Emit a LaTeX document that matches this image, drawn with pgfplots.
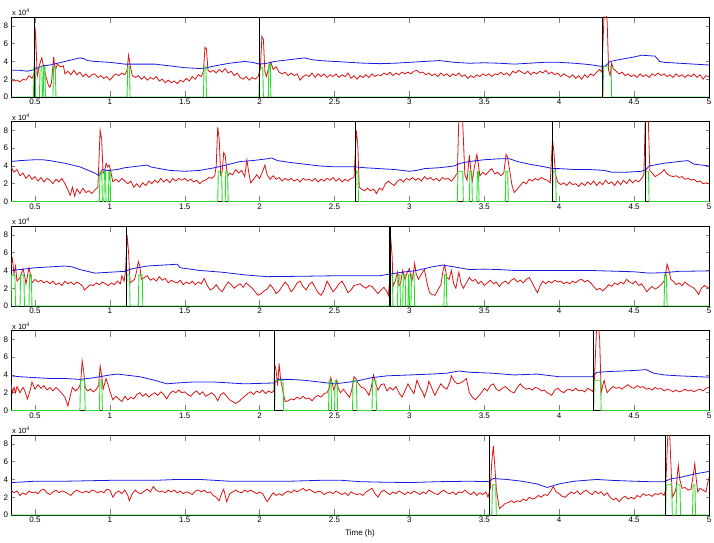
\documentclass[border=0pt]{standalone}
\usepackage{fontspec}
\setmainfont{Liberation Sans}
\usepackage{pgfplots}
\pgfplotsset{compat=1.18}

\definecolor{blu}{RGB}{25,25,225}
\definecolor{rd}{RGB}{220,20,20}
\definecolor{grn}{RGB}{40,220,40}

\pgfplotsset{
  pnl/.style={
    scale only axis, width=698pt, height=80pt, anchor=south west,
    xmin=0.34, xmax=5, ymin=0, ymax=9,
    xtick={0.5,1,1.5,2,2.5,3,3.5,4,4.5,5},
    ytick={0,2,4,6,8},
    tick align=inside,
    xtick style={/pgfplots/major tick length=6pt, line width=0.5pt},
    ytick style={/pgfplots/major tick length=3.5pt, line width=0.5pt},
    axis line style={line width=0.6pt},
    /pgf/number format/assume math mode=true,
    ticklabel style={font=\fontsize{8}{9}\selectfont},
    xticklabel style={yshift=1.5pt},
    yticklabel style={xshift=0.5pt},
    label style={font=\fontsize{8}{9}\selectfont},
  },
  red line/.style={rd, line width=0.8pt},
  blue line/.style={blu, line width=0.8pt},
  green line/.style={grn, line width=0.9pt},
  event/.style={black, ycomb, line width=1.1pt},
}
\tikzset{sclab/.style={anchor=south west, inner sep=1pt, font=\fontsize{7.5}{8}\selectfont}}

\begin{document}
\begin{tikzpicture}
\path[use as bounding box] (-11pt,-27pt) rectangle (703pt,515pt);

% panel 1
\begin{axis}[pnl, at={(0pt,418pt)}, name=p1]
\addplot[red line] coordinates {
(0.34,2.0)(0.36,1.8)(0.38,1.9)(0.40,1.7)(0.42,2.0)(0.44,1.9)(0.46,2.4)(0.48,2.1)(0.495,2.6)(0.50,7.9)(0.505,7.0)(0.515,2.3)
(0.53,3.6)(0.545,4.4)(0.56,3.3)(0.575,2.2)(0.59,1.3)(0.60,1.1)(0.61,1.6)(0.625,4.5)(0.635,3.0)(0.65,3.7)(0.67,3.4)(0.69,3.5)
(0.70,2.6)(0.72,2.9)(0.74,2.5)(0.76,3.0)(0.78,2.5)(0.80,2.8)(0.82,2.3)(0.84,2.6)(0.86,2.2)(0.88,2.5)(0.90,2.6)(0.92,2.2)
(0.94,2.4)(0.96,2.1)(0.98,2.3)(1.00,1.9)(1.02,2.3)(1.04,2.6)(1.06,2.4)(1.08,2.7)(1.10,2.5)(1.115,3.0)(1.125,4.7)(1.135,3.6)
(1.15,2.4)(1.17,2.2)(1.19,2.4)(1.21,2.0)(1.23,2.3)(1.25,1.9)(1.27,2.2)(1.29,2.0)(1.31,2.3)(1.33,1.8)(1.35,2.0)(1.37,1.6)
(1.39,1.9)(1.41,1.6)(1.43,1.8)(1.45,1.5)(1.47,1.9)(1.49,1.7)(1.51,2.1)(1.53,1.8)(1.55,2.3)(1.57,2.0)(1.59,2.5)(1.61,2.3)
(1.625,2.9)(1.635,5.6)(1.645,5.4)(1.655,3.0)(1.67,2.8)(1.69,3.0)(1.71,2.7)(1.73,3.1)(1.75,2.8)(1.77,3.2)(1.79,2.7)(1.81,2.9)
(1.83,2.4)(1.85,2.7)(1.87,2.2)(1.89,2.0)(1.91,2.3)(1.93,1.9)(1.95,2.2)(1.97,2.0)(1.99,2.3)(2.005,3.2)(2.015,6.8)(2.025,6.5)
(2.035,2.8)(2.045,2.3)(2.06,3.3)(2.075,3.9)(2.09,3.1)(2.11,3.4)(2.13,2.8)(2.15,2.6)(2.17,2.8)(2.19,2.4)(2.21,2.7)(2.23,2.4)
(2.25,2.6)(2.27,1.9)(2.29,2.3)(2.31,2.5)(2.33,2.3)(2.35,2.7)(2.37,2.2)(2.39,2.6)(2.41,2.3)(2.43,2.6)(2.45,2.2)(2.47,2.5)
(2.49,2.3)(2.51,2.6)(2.53,2.2)(2.55,2.5)(2.57,2.3)(2.59,2.7)(2.61,2.1)(2.63,2.4)(2.65,2.0)(2.67,2.4)(2.69,2.2)(2.71,2.5)
(2.73,2.2)(2.75,2.6)(2.77,2.3)(2.79,2.5)(2.81,2.4)(2.83,2.7)(2.85,2.5)(2.87,2.8)(2.89,2.4)(2.91,2.7)(2.93,2.5)(2.95,2.8)
(2.97,2.6)(2.99,2.8)(3.01,2.6)(3.03,2.9)(3.05,3.0)(3.07,2.7)(3.09,2.8)(3.11,2.5)(3.13,2.7)(3.15,2.4)(3.17,2.6)(3.19,2.3)
(3.21,2.7)(3.23,2.4)(3.25,2.6)(3.27,2.3)(3.29,2.6)(3.31,2.4)(3.33,2.7)(3.35,2.3)(3.37,2.5)(3.39,2.1)(3.41,2.4)(3.43,2.2)
(3.45,2.5)(3.47,2.3)(3.49,2.6)(3.51,2.4)(3.53,2.6)(3.55,2.3)(3.57,2.6)(3.59,2.5)(3.61,2.8)(3.63,2.5)(3.65,2.7)(3.67,2.4)
(3.69,2.9)(3.71,2.7)(3.73,3.0)(3.75,2.8)(3.77,2.6)(3.79,2.9)(3.81,2.5)(3.83,2.8)(3.85,2.6)(3.87,2.9)(3.89,2.7)(3.91,3.0)
(3.93,2.6)(3.95,2.8)(3.97,2.5)(3.99,2.7)(4.01,2.3)(4.03,2.6)(4.05,2.4)(4.07,2.2)(4.09,2.5)(4.11,2.1)(4.13,2.4)(4.15,2.0)
(4.17,2.5)(4.19,2.2)(4.21,2.6)(4.23,2.4)(4.25,2.8)(4.27,3.1)(4.285,2.8)(4.30,9.5)(4.31,10)(4.32,8.5)(4.33,3.0)(4.34,2.4)
(4.35,3.8)(4.36,3.2)(4.38,2.9)(4.40,2.6)(4.42,2.8)(4.44,2.4)(4.46,2.6)(4.48,2.3)(4.50,2.5)(4.52,2.2)(4.54,2.6)(4.56,2.3)
(4.58,2.5)(4.60,2.2)(4.62,2.6)(4.64,2.4)(4.66,2.7)(4.68,2.4)(4.70,2.6)(4.72,2.3)(4.74,2.5)(4.76,2.2)(4.78,2.6)(4.80,2.3)
(4.82,2.5)(4.84,2.2)(4.86,2.5)(4.88,2.3)(4.90,2.6)(4.92,2.2)(4.94,2.5)(4.96,2.0)(4.98,2.4)(5.00,2.3)
};
\addplot[blue line] coordinates {
(0.34,3.0)(0.40,3.0)(0.45,2.9)(0.50,3.1)(0.52,3.3)(0.55,3.5)(0.60,3.6)(0.65,3.8)(0.70,4.0)(0.75,4.2)(0.80,4.4)(0.83,4.3)
(0.85,4.1)(0.90,4.0)(1.00,3.9)(1.05,3.8)(1.10,3.7)(1.20,3.7)(1.30,3.7)(1.40,3.5)(1.50,3.3)(1.60,3.2)(1.65,3.3)(1.70,3.5)
(1.80,3.8)(1.90,4.0)(1.95,3.9)(2.00,3.7)(2.05,3.8)(2.10,4.0)(2.20,4.2)(2.30,4.4)(2.35,4.2)(2.40,4.1)(2.50,4.0)(2.60,3.9)
(2.70,3.8)(2.80,3.75)(2.90,3.8)(3.00,3.9)(3.10,4.0)(3.20,4.1)(3.30,3.9)(3.40,3.8)(3.50,3.85)(3.60,3.8)(3.70,3.7)(3.80,3.8)
(3.90,3.9)(4.00,3.9)(4.10,3.8)(4.20,3.65)(4.28,3.45)(4.31,3.5)(4.34,4.0)(4.40,4.2)(4.50,4.5)(4.55,4.7)(4.64,4.6)(4.67,4.0)
(4.70,3.9)(4.80,3.8)(4.90,3.7)(5.00,3.6)
};
\addplot[green line] coordinates {
(0.34,0)(0.49,0)(0.494,3.4)(0.501,3.4)(0.505,0)(0.53,0)(0.534,3.4)(0.546,3.4)(0.55,0)(0.555,0)(0.559,3.4)(0.566,3.4)(0.57,0)
(0.62,0)(0.624,3.4)(0.636,3.4)(0.64,0)(1.115,0)(1.119,3.4)(1.131,3.4)(1.135,0)(1.625,0)(1.629,3.4)(1.641,3.4)(1.645,0)
(1.995,0)(1.999,3.3)(2.021,3.3)(2.025,0)(2.058,0)(2.062,3.7)(2.071,3.7)(2.075,0)(4.292,0)(4.296,3.4)(4.346,3.4)(4.35,0)(5,0)
};
\addplot[event] coordinates {(0.495,9)(2.0,9)(4.29,9)};
\end{axis}
\node[sclab] at (p1.north west) {x 10\textsuperscript{4}};

% panel 2
\begin{axis}[pnl, at={(0pt,313.5pt)}, name=p2]
\addplot[red line] coordinates {
(0.34,3.9)(0.36,3.3)(0.38,3.6)(0.40,2.9)(0.42,3.2)(0.44,2.6)(0.46,3.0)(0.48,2.5)(0.50,2.8)(0.52,2.3)(0.54,2.7)(0.56,2.2)
(0.58,2.6)(0.60,2.4)(0.62,2.0)(0.64,2.5)(0.66,2.2)(0.68,2.6)(0.70,2.0)(0.72,1.3)(0.735,0.7)(0.75,1.6)(0.765,0.6)(0.78,1.4)
(0.80,0.9)(0.82,1.5)(0.84,1.0)(0.86,1.2)(0.88,0.9)(0.90,1.3)(0.92,1.6)(0.935,8.0)(0.945,7.0)(0.955,3.2)(0.965,3.4)(0.975,4.3)
(0.985,3.9)(0.995,4.1)(1.005,3.5)(1.02,2.2)(1.04,2.5)(1.06,2.2)(1.08,2.6)(1.10,2.3)(1.12,2.0)(1.14,2.3)(1.16,1.6)(1.18,2.0)
(1.20,1.6)(1.22,2.1)(1.24,1.8)(1.26,2.3)(1.28,2.0)(1.30,2.4)(1.32,2.1)(1.34,2.6)(1.36,2.2)(1.38,2.5)(1.40,2.1)(1.42,2.6)
(1.44,2.3)(1.46,2.6)(1.48,2.4)(1.50,2.6)(1.52,2.3)(1.54,2.5)(1.56,2.2)(1.58,2.4)(1.60,2.0)(1.62,2.3)(1.64,2.4)(1.66,2.7)
(1.68,2.6)(1.70,2.9)(1.71,4.0)(1.72,8.4)(1.73,7.0)(1.74,3.0)(1.75,3.4)(1.76,5.5)(1.77,5.2)(1.785,2.8)(1.80,3.2)(1.82,3.0)
(1.84,3.6)(1.86,3.2)(1.88,3.5)(1.90,2.8)(1.915,4.7)(1.925,3.5)(1.94,2.1)(1.96,2.5)(1.98,3.0)(2.00,2.6)(2.02,3.4)(2.035,4.1)
(2.05,3.0)(2.07,2.5)(2.09,2.9)(2.11,2.5)(2.13,2.7)(2.15,2.3)(2.17,2.6)(2.19,2.4)(2.21,2.6)(2.23,2.3)(2.25,2.5)(2.27,2.2)
(2.29,2.6)(2.31,2.4)(2.33,2.5)(2.35,2.3)(2.37,2.6)(2.39,2.2)(2.41,2.5)(2.43,2.3)(2.45,2.6)(2.47,2.4)(2.49,2.7)(2.51,2.3)
(2.53,2.6)(2.55,2.2)(2.57,2.5)(2.59,2.3)(2.61,2.6)(2.63,2.7)(2.64,6.0)(2.645,8.0)(2.655,6.5)(2.665,1.6)(2.68,1.4)(2.70,1.2)
(2.72,1.5)(2.74,1.2)(2.76,1.4)(2.78,0.9)(2.80,1.5)(2.82,1.3)(2.84,2.0)(2.86,2.3)(2.88,2.0)(2.90,1.8)(2.92,2.3)(2.94,2.5)
(2.96,2.2)(2.98,2.6)(3.00,2.4)(3.02,2.7)(3.04,2.4)(3.06,2.6)(3.08,2.3)(3.10,2.8)(3.12,2.5)(3.14,2.7)(3.16,2.4)(3.18,2.6)
(3.20,2.3)(3.22,2.7)(3.24,2.5)(3.26,2.6)(3.28,2.3)(3.30,2.7)(3.32,3.2)(3.33,9.5)(3.345,10)(3.355,9.2)(3.37,3.0)(3.385,2.4)
(3.40,5.2)(3.41,3.5)(3.42,2.3)(3.435,4.0)(3.45,5.3)(3.46,4.2)(3.47,2.9)(3.49,3.3)(3.51,3.0)(3.53,3.4)(3.55,3.7)(3.57,3.1)
(3.59,3.3)(3.61,2.9)(3.63,3.2)(3.645,5.3)(3.655,5.0)(3.67,3.4)(3.685,1.8)(3.70,1.0)(3.72,1.4)(3.74,1.8)(3.76,2.2)(3.78,2.0)
(3.80,2.5)(3.82,2.3)(3.84,2.6)(3.86,2.4)(3.88,2.7)(3.90,2.5)(3.92,2.4)(3.94,2.1)(3.955,7.0)(3.965,5.5)(3.975,3.0)(3.99,2.2)
(4.01,1.9)(4.03,2.1)(4.05,1.8)(4.07,2.2)(4.09,1.9)(4.11,2.0)(4.13,1.7)(4.15,2.1)(4.17,1.8)(4.19,2.2)(4.21,1.9)(4.23,2.3)
(4.25,1.8)(4.27,2.2)(4.29,1.9)(4.31,2.4)(4.33,2.0)(4.35,2.2)(4.37,1.8)(4.39,2.3)(4.41,1.9)(4.43,2.4)(4.45,2.0)(4.47,2.5)
(4.49,2.1)(4.51,2.4)(4.53,2.2)(4.55,2.6)(4.565,3.0)(4.575,9.5)(4.585,10)(4.595,9.0)(4.605,3.5)(4.62,3.2)(4.64,2.8)(4.66,3.0)
(4.68,3.2)(4.70,3.6)(4.72,3.1)(4.74,2.9)(4.76,2.8)(4.78,2.9)(4.80,2.7)(4.82,2.8)(4.84,2.5)(4.86,2.6)(4.88,2.4)(4.90,2.5)
(4.92,2.2)(4.94,2.3)(4.96,2.0)(4.98,2.1)(5.00,2.0)
};
\addplot[blue line] coordinates {
(0.34,4.5)(0.40,4.6)(0.50,4.7)(0.55,4.7)(0.60,4.6)(0.70,4.3)(0.80,3.9)(0.90,3.2)(0.93,2.9)(0.95,3.6)(0.98,3.5)(1.00,3.5)
(1.05,3.6)(1.10,3.8)(1.20,4.0)(1.25,4.1)(1.27,3.9)(1.30,3.8)(1.40,3.5)(1.50,3.4)(1.60,3.5)(1.70,3.8)(1.80,4.2)(1.87,4.5)
(1.95,4.6)(2.05,4.8)(2.08,4.9)(2.12,4.6)(2.20,4.4)(2.30,4.2)(2.40,4.0)(2.50,3.9)(2.64,3.9)(2.70,3.8)(2.80,3.7)(2.90,3.6)
(3.00,3.4)(3.05,3.5)(3.10,3.7)(3.20,3.8)(3.30,4.0)(3.34,4.3)(3.40,4.5)(3.50,4.7)(3.60,4.8)(3.67,4.8)(3.72,4.5)(3.80,4.2)
(3.90,3.9)(3.96,3.7)(4.00,3.7)(4.10,3.6)(4.20,3.6)(4.30,3.5)(4.35,3.3)(4.45,3.3)(4.55,3.4)(4.58,3.6)(4.60,4.0)(4.70,4.3)
(4.80,4.5)(4.86,4.6)(4.90,4.2)(5.00,4.0)
};
\addplot[green line] coordinates {
(0.34,0)(0.93,0)(0.934,3.4)(0.946,3.4)(0.95,0)(0.96,0)(0.964,3.4)(0.971,3.4)(0.975,0)(0.99,0)(0.994,3.4)(1.001,3.4)(1.005,0)
(1.72,0)(1.724,3.4)(1.746,3.4)(1.75,0)(1.77,0)(1.774,3.4)(1.786,3.4)(1.79,0)(2.64,0)(2.644,3.4)(2.656,3.4)(2.66,0)
(3.32,0)(3.324,3.4)(3.356,3.4)(3.36,0)(3.40,0)(3.404,3.4)(3.416,3.4)(3.42,0)(3.45,0)(3.454,3.4)(3.461,3.4)(3.465,0)
(3.64,0)(3.644,3.4)(3.656,3.4)(3.66,0)(3.955,0)(3.959,3.4)(3.976,3.4)(3.98,0)(4.575,0)(4.579,3.4)(4.596,3.4)(4.60,0)(5,0)
};
\addplot[event] coordinates {(2.64,9)(3.955,9)(4.575,9)};
\end{axis}
\node[sclab] at (p2.north west) {x 10\textsuperscript{4}};

% panel 3
\begin{axis}[pnl, at={(0pt,209pt)}, name=p3]
\addplot[red line] coordinates {
(0.34,4.5)(0.35,5.3)(0.36,3.6)(0.37,4.5)(0.38,2.8)(0.40,3.2)(0.42,4.2)(0.43,3.5)(0.44,2.5)(0.46,4.3)(0.47,3.5)(0.48,2.6)
(0.50,3.0)(0.52,2.7)(0.54,2.9)(0.56,2.6)(0.58,2.8)(0.60,2.5)(0.62,2.8)(0.64,2.4)(0.66,2.6)(0.68,2.3)(0.70,2.8)(0.72,2.5)
(0.74,2.7)(0.76,2.4)(0.78,2.7)(0.80,2.5)(0.82,2.2)(0.83,1.8)(0.85,2.1)(0.87,2.4)(0.89,2.3)(0.91,2.6)(0.93,2.4)(0.95,2.7)
(0.97,2.5)(0.99,2.3)(1.01,2.6)(1.03,2.4)(1.05,2.8)(1.07,2.5)(1.08,3.4)(1.095,2.8)(1.105,4.0)(1.115,8.0)(1.125,6.0)(1.135,2.6)
(1.15,2.8)(1.165,3.0)(1.18,4.0)(1.19,5.0)(1.20,4.5)(1.21,3.0)(1.23,3.2)(1.25,3.4)(1.27,2.9)(1.29,3.1)(1.31,2.8)(1.33,3.3)
(1.35,2.9)(1.37,3.1)(1.39,2.6)(1.41,2.9)(1.43,2.7)(1.45,2.6)(1.47,2.9)(1.49,2.4)(1.51,2.7)(1.53,2.5)(1.55,2.8)(1.57,2.4)
(1.59,2.7)(1.61,2.5)(1.63,3.1)(1.65,2.3)(1.67,1.8)(1.69,2.0)(1.71,2.4)(1.73,1.9)(1.75,1.6)(1.77,2.2)(1.79,2.7)(1.81,2.4)
(1.83,2.0)(1.85,2.3)(1.87,2.5)(1.89,2.1)(1.91,2.6)(1.93,2.3)(1.95,2.0)(1.97,1.6)(1.99,1.2)(2.01,1.4)(2.03,1.7)(2.05,1.9)
(2.07,2.4)(2.09,2.0)(2.11,1.4)(2.13,1.7)(2.15,2.2)(2.17,2.7)(2.19,2.3)(2.21,1.6)(2.23,2.0)(2.25,2.6)(2.27,2.8)(2.29,2.2)
(2.31,1.8)(2.33,2.4)(2.35,2.7)(2.37,2.1)(2.39,1.5)(2.41,1.2)(2.43,1.8)(2.45,2.8)(2.47,2.2)(2.49,1.6)(2.51,2.0)(2.53,2.5)
(2.55,2.8)(2.57,2.2)(2.59,1.5)(2.61,1.8)(2.63,2.3)(2.65,2.4)(2.67,2.5)(2.69,2.2)(2.71,2.0)(2.73,2.3)(2.75,2.2)(2.77,1.8)
(2.79,1.4)(2.81,1.8)(2.83,2.1)(2.85,1.6)(2.86,1.2)(2.87,3.5)(2.875,7.7)(2.885,5.5)(2.89,2.2)(2.905,2.8)(2.92,3.8)(2.93,2.3)
(2.94,2.5)(2.955,4.0)(2.97,3.0)(2.985,3.8)(3.00,4.2)(3.015,2.7)(3.025,3.5)(3.035,4.8)(3.045,3.6)(3.06,3.0)(3.08,3.6)(3.10,4.1)
(3.12,2.4)(3.135,1.5)(3.15,1.3)(3.17,1.2)(3.19,1.8)(3.21,2.4)(3.225,4.0)(3.235,4.6)(3.25,3.2)(3.265,3.0)(3.28,4.0)(3.295,2.5)
(3.31,2.0)(3.33,3.8)(3.345,2.5)(3.36,2.0)(3.38,2.6)(3.40,3.2)(3.42,2.8)(3.44,3.0)(3.46,2.5)(3.48,2.8)(3.50,2.3)(3.52,2.6)
(3.54,2.9)(3.56,2.5)(3.58,2.7)(3.60,2.2)(3.62,2.6)(3.64,2.8)(3.66,2.5)(3.68,2.9)(3.70,3.1)(3.72,2.7)(3.74,2.9)(3.76,2.6)
(3.78,3.0)(3.80,3.2)(3.82,2.6)(3.84,1.9)(3.855,1.5)(3.87,2.2)(3.89,2.8)(3.91,2.5)(3.93,2.8)(3.95,2.6)(3.97,2.9)(3.99,2.7)
(4.01,2.8)(4.03,2.5)(4.05,2.7)(4.07,2.5)(4.09,2.8)(4.11,2.6)(4.13,2.9)(4.15,3.0)(4.17,2.7)(4.19,2.9)(4.21,2.6)(4.23,2.2)
(4.25,1.8)(4.27,2.0)(4.29,1.7)(4.31,2.0)(4.33,2.4)(4.35,2.2)(4.37,2.6)(4.39,2.4)(4.41,2.7)(4.43,2.5)(4.45,3.0)(4.47,2.7)
(4.49,2.5)(4.51,2.8)(4.53,2.3)(4.55,2.5)(4.57,2.0)(4.585,1.6)(4.60,1.9)(4.62,2.2)(4.64,1.9)(4.66,2.1)(4.68,2.4)(4.70,2.8)
(4.71,3.6)(4.72,4.7)(4.73,4.2)(4.745,3.0)(4.76,2.8)(4.78,2.4)(4.80,2.6)(4.82,2.3)(4.84,2.7)(4.86,2.4)(4.88,2.2)(4.90,2.0)
(4.92,1.6)(4.93,1.3)(4.95,2.0)(4.97,2.3)(4.99,2.1)(5.00,2.0)
};
\addplot[blue line] coordinates {
(0.34,4.0)(0.40,4.1)(0.50,4.3)(0.60,4.4)(0.70,4.5)(0.75,4.4)(0.80,4.1)(0.85,3.9)(0.90,3.7)(1.00,3.8)(1.10,3.9)(1.15,4.2)
(1.25,4.5)(1.35,4.6)(1.45,4.7)(1.47,4.3)(1.60,4.0)(1.75,3.8)(1.90,3.5)(2.05,3.3)(2.30,3.35)(2.50,3.4)(2.70,3.4)(2.80,3.4)
(2.87,3.6)(2.95,3.8)(3.05,4.0)(3.15,4.4)(3.22,4.6)(3.30,4.4)(3.40,4.1)(3.50,4.15)(3.60,4.1)(3.70,4.0)(3.80,4.0)(4.00,4.0)
(4.20,4.0)(4.40,3.9)(4.50,3.85)(4.60,3.7)(4.70,3.75)(4.80,3.9)(5.00,3.95)
};
\addplot[green line] coordinates {
(0.34,0)(0.344,3.5)(0.366,3.5)(0.37,0)(0.40,0)(0.404,3.5)(0.426,3.5)(0.43,0)(0.46,0)(0.464,3.5)(0.476,3.5)(0.48,0)
(1.11,0)(1.114,3.5)(1.131,3.5)(1.135,0)(1.19,0)(1.194,3.5)(1.216,3.5)(1.22,0)(2.87,0)(2.874,3.5)(2.886,3.5)(2.89,0)
(2.92,0)(2.924,3.5)(2.936,3.5)(2.94,0)(2.955,0)(2.959,3.5)(2.971,3.5)(2.975,0)(2.99,0)(2.993,3.5)(2.997,3.5)(3.0,0)
(3.01,0)(3.014,3.5)(3.031,3.5)(3.035,0)(3.23,0)(3.234,3.5)(3.246,3.5)(3.25,0)(4.70,0)(4.704,3.5)(4.716,3.5)(4.72,0)(5,0)
};
\addplot[event] coordinates {(1.11,9)(2.87,9)};
\end{axis}
\node[sclab] at (p3.north west) {x 10\textsuperscript{4}};

% panel 4
\begin{axis}[pnl, at={(0pt,104.5pt)}, name=p4]
\addplot[red line] coordinates {
(0.34,3.0)(0.35,2.0)(0.36,2.6)(0.37,2.0)(0.38,2.7)(0.40,2.0)(0.42,2.6)(0.43,2.3)(0.45,1.3)(0.47,2.4)(0.48,3.2)(0.50,2.4)
(0.52,2.9)(0.54,2.5)(0.56,2.8)(0.58,2.3)(0.60,2.6)(0.62,2.2)(0.64,2.6)(0.66,2.3)(0.68,1.9)(0.70,1.5)(0.72,0.5)(0.735,1.6)
(0.75,2.6)(0.77,2.2)(0.79,2.5)(0.805,3.0)(0.815,5.6)(0.825,4.5)(0.835,2.6)(0.85,2.2)(0.87,2.4)(0.89,2.1)(0.91,2.4)(0.925,2.8)
(0.935,5.0)(0.945,4.0)(0.955,2.4)(0.965,3.0)(0.975,3.6)(0.99,2.8)(1.00,2.2)(1.02,1.2)(1.04,1.6)(1.06,1.3)(1.08,1.0)(1.10,1.6)
(1.12,1.2)(1.14,1.5)(1.16,1.3)(1.18,1.8)(1.20,2.0)(1.22,1.6)(1.24,1.9)(1.26,1.5)(1.28,1.8)(1.30,2.0)(1.32,1.7)(1.34,2.1)
(1.36,1.8)(1.38,1.3)(1.40,1.9)(1.42,2.2)(1.44,2.0)(1.46,2.3)(1.48,2.0)(1.50,2.1)(1.52,1.8)(1.54,1.6)(1.56,2.0)(1.58,2.2)
(1.60,1.8)(1.62,2.1)(1.64,1.6)(1.66,1.8)(1.68,2.0)(1.70,1.7)(1.72,1.1)(1.74,1.8)(1.76,2.0)(1.78,1.6)(1.80,1.2)(1.82,1.0)
(1.84,0.8)(1.86,1.0)(1.88,1.3)(1.90,1.6)(1.92,1.9)(1.94,2.1)(1.96,1.8)(1.98,2.2)(2.00,2.0)(2.02,2.3)(2.04,1.9)(2.06,2.2)
(2.08,2.0)(2.095,2.2)(2.10,5.2)(2.11,4.5)(2.12,2.8)(2.13,5.3)(2.14,3.5)(2.155,2.2)(2.17,1.0)(2.19,1.1)(2.21,1.3)(2.23,1.2)
(2.25,1.5)(2.27,1.3)(2.29,1.6)(2.31,1.3)(2.33,1.4)(2.35,1.1)(2.37,1.5)(2.39,1.7)(2.41,1.5)(2.43,1.9)(2.45,2.0)(2.465,2.5)
(2.475,3.7)(2.485,3.0)(2.495,2.3)(2.505,2.8)(2.515,3.4)(2.525,2.5)(2.54,2.0)(2.56,2.4)(2.58,1.9)(2.60,1.5)(2.615,2.3)(2.63,3.8)
(2.645,3.5)(2.66,3.0)(2.68,2.6)(2.70,2.5)(2.72,2.0)(2.73,1.7)(2.745,2.6)(2.76,4.0)(2.775,3.0)(2.79,2.3)(2.81,2.9)(2.83,3.0)
(2.85,2.2)(2.87,2.6)(2.89,2.3)(2.91,2.7)(2.93,2.0)(2.95,1.5)(2.97,2.2)(2.99,3.0)(3.01,2.4)(3.03,1.9)(3.05,3.4)(3.07,2.6)
(3.09,2.0)(3.10,1.5)(3.12,2.5)(3.13,3.3)(3.15,2.5)(3.17,1.7)(3.19,2.4)(3.21,3.0)(3.23,2.6)(3.25,2.4)(3.27,3.2)(3.28,3.9)
(3.30,3.3)(3.32,3.0)(3.34,3.1)(3.36,3.3)(3.38,3.6)(3.40,2.0)(3.42,1.5)(3.44,1.2)(3.46,1.6)(3.48,2.0)(3.50,2.5)(3.52,2.2)
(3.54,2.8)(3.56,3.0)(3.58,2.4)(3.60,2.2)(3.62,2.5)(3.64,2.7)(3.66,2.4)(3.68,2.1)(3.70,2.0)(3.72,2.6)(3.74,3.0)(3.76,2.6)
(3.78,2.4)(3.80,2.5)(3.82,2.3)(3.84,2.6)(3.86,2.5)(3.88,2.2)(3.90,2.3)(3.92,2.0)(3.94,1.8)(3.95,1.7)(3.97,2.3)(3.99,2.5)
(4.01,2.2)(4.03,2.0)(4.05,2.3)(4.07,2.4)(4.09,2.2)(4.11,2.5)(4.13,2.2)(4.15,2.3)(4.17,2.1)(4.19,2.5)(4.21,2.3)(4.225,2.1)
(4.235,3.5)(4.25,9.5)(4.26,10)(4.27,8.0)(4.28,2.0)(4.29,2.8)(4.30,3.4)(4.31,2.6)(4.32,2.0)(4.34,2.4)(4.36,2.7)(4.38,2.5)
(4.40,2.6)(4.42,2.4)(4.44,2.7)(4.46,2.9)(4.48,2.6)(4.50,2.5)(4.52,2.8)(4.54,2.6)(4.56,2.7)(4.58,2.4)(4.60,2.5)(4.62,2.3)
(4.64,2.6)(4.66,2.4)(4.68,2.5)(4.70,2.2)(4.72,2.4)(4.74,2.3)(4.76,2.1)(4.78,2.3)(4.80,2.1)(4.82,2.2)(4.84,2.4)(4.86,2.2)
(4.88,2.3)(4.90,2.1)(4.92,2.3)(4.94,2.4)(4.96,2.2)(4.98,2.5)(5.00,2.6)
};
\addplot[blue line] coordinates {
(0.34,3.9)(0.40,3.8)(0.50,3.7)(0.60,3.6)(0.70,3.6)(0.80,3.5)(0.90,3.7)(1.00,4.0)(1.05,4.1)(1.10,4.0)(1.20,3.8)(1.30,3.4)
(1.38,3.0)(1.45,3.1)(1.55,3.2)(1.70,3.2)(1.80,3.1)(1.90,3.0)(2.00,3.05)(2.10,3.1)(2.12,3.5)(2.20,3.5)(2.30,3.4)(2.40,3.2)
(2.50,3.0)(2.60,3.2)(2.67,3.4)(2.75,3.7)(2.85,3.9)(3.00,4.0)(3.15,4.1)(3.25,4.2)(3.33,4.45)(3.40,4.3)(3.55,4.2)(3.70,4.0)
(3.85,4.1)(4.00,3.8)(4.10,3.8)(4.22,3.8)(4.25,4.3)(4.35,4.4)(4.50,4.5)(4.58,4.6)(4.63,4.2)(4.70,4.0)(4.80,3.9)(5.00,3.75)
};
\addplot[green line] coordinates {
(0.34,0)(0.80,0)(0.804,3.4)(0.831,3.4)(0.835,0)(0.93,0)(0.934,3.4)(0.946,3.4)(0.95,0)(2.10,0)(2.104,3.4)(2.156,3.4)(2.16,0)
(2.46,0)(2.464,3.4)(2.476,3.4)(2.48,0)(2.50,0)(2.504,3.4)(2.516,3.4)(2.52,0)(2.62,0)(2.624,3.4)(2.646,3.4)(2.65,0)
(2.75,0)(2.754,3.4)(2.776,3.4)(2.78,0)(4.23,0)(4.234,3.4)(4.276,3.4)(4.28,0)(5,0)
};
\addplot[event] coordinates {(2.10,9)(4.23,9)};
\end{axis}
\node[sclab] at (p4.north west) {x 10\textsuperscript{4}};

% panel 5
\begin{axis}[pnl, at={(0pt,0pt)}, name=p5, xlabel={Time (h)}]
\addplot[red line] coordinates {
(0.34,2.8)(0.36,2.5)(0.38,2.7)(0.40,2.2)(0.42,2.5)(0.44,2.3)(0.46,2.7)(0.48,2.5)(0.50,2.6)(0.52,2.4)(0.54,2.8)(0.56,2.9)
(0.58,2.5)(0.60,2.3)(0.62,2.6)(0.64,2.8)(0.66,2.5)(0.68,2.7)(0.70,2.6)(0.72,2.4)(0.74,2.2)(0.76,2.6)(0.78,2.8)(0.80,2.6)
(0.82,2.5)(0.84,2.7)(0.86,2.5)(0.88,2.8)(0.90,2.7)(0.92,2.5)(0.94,2.7)(0.96,2.5)(0.98,2.9)(1.00,2.8)(1.02,2.0)(1.04,2.5)
(1.06,2.7)(1.08,2.4)(1.10,2.8)(1.12,2.2)(1.13,1.6)(1.15,2.4)(1.17,2.8)(1.19,2.5)(1.21,2.4)(1.23,2.7)(1.25,2.9)(1.27,2.6)
(1.29,3.2)(1.31,2.8)(1.33,2.6)(1.35,2.7)(1.37,2.5)(1.39,2.8)(1.41,2.6)(1.43,2.8)(1.45,2.5)(1.47,2.7)(1.49,2.4)(1.51,2.6)
(1.53,2.5)(1.55,2.3)(1.57,2.7)(1.59,2.8)(1.61,2.6)(1.63,2.8)(1.65,2.5)(1.67,2.6)(1.69,2.2)(1.71,2.0)(1.73,1.6)(1.75,2.6)
(1.76,2.9)(1.78,1.5)(1.80,2.4)(1.82,2.6)(1.84,2.8)(1.86,2.6)(1.88,2.5)(1.90,2.8)(1.92,2.6)(1.94,2.8)(1.96,2.6)(1.98,2.4)
(2.00,2.6)(2.02,2.4)(2.04,1.8)(2.05,1.5)(2.07,2.0)(2.09,2.5)(2.11,2.2)(2.13,2.4)(2.15,2.2)(2.17,2.5)(2.19,2.7)(2.21,2.5)
(2.23,2.8)(2.25,2.6)(2.27,2.8)(2.29,3.0)(2.31,2.7)(2.33,2.9)(2.35,2.7)(2.37,2.5)(2.39,2.7)(2.41,2.6)(2.43,2.3)(2.45,2.5)
(2.47,2.6)(2.49,2.4)(2.51,2.7)(2.53,2.5)(2.55,2.3)(2.57,2.5)(2.59,2.2)(2.61,2.6)(2.63,2.4)(2.65,2.3)(2.67,2.4)(2.69,2.2)
(2.71,2.6)(2.73,2.8)(2.75,3.0)(2.77,2.4)(2.79,2.0)(2.81,2.6)(2.83,2.8)(2.85,2.5)(2.87,2.3)(2.89,2.6)(2.91,2.4)(2.93,2.7)
(2.95,2.5)(2.97,2.3)(2.99,2.6)(3.01,2.4)(3.03,2.7)(3.05,2.5)(3.07,2.3)(3.09,2.6)(3.11,2.4)(3.13,2.8)(3.15,2.6)(3.17,2.4)
(3.19,2.3)(3.21,2.6)(3.23,2.8)(3.25,2.5)(3.27,2.4)(3.29,2.6)(3.31,2.3)(3.33,2.6)(3.35,2.5)(3.37,2.8)(3.39,2.5)(3.41,2.3)
(3.43,2.6)(3.45,2.2)(3.47,2.5)(3.49,2.3)(3.51,2.6)(3.525,2.0)(3.54,3.0)(3.55,6.0)(3.56,7.8)(3.57,5.5)(3.58,3.0)(3.59,1.8)
(3.60,0.7)(3.62,1.0)(3.64,1.3)(3.66,1.4)(3.68,1.6)(3.70,1.4)(3.72,1.6)(3.74,1.5)(3.76,1.8)(3.78,1.6)(3.80,2.0)(3.82,1.8)
(3.84,1.9)(3.86,2.2)(3.88,2.0)(3.90,2.3)(3.92,2.2)(3.94,2.6)(3.96,3.2)(3.98,2.6)(4.00,2.4)(4.02,2.1)(4.04,2.0)(4.06,2.3)
(4.08,2.6)(4.10,2.4)(4.12,2.7)(4.14,2.3)(4.16,2.6)(4.18,2.8)(4.20,2.5)(4.22,2.3)(4.24,2.7)(4.26,2.4)(4.28,2.6)(4.30,2.2)
(4.32,2.5)(4.34,2.0)(4.36,1.7)(4.38,1.9)(4.40,1.5)(4.42,1.9)(4.44,2.1)(4.46,1.8)(4.48,2.0)(4.50,1.8)(4.52,2.2)(4.54,2.0)
(4.56,2.4)(4.58,2.2)(4.60,2.3)(4.62,2.1)(4.64,2.4)(4.66,2.3)(4.68,2.5)(4.70,2.2)(4.71,2.8)(4.725,9.0)(4.735,10)(4.745,6.0)
(4.755,2.0)(4.77,2.5)(4.78,3.0)(4.795,5.6)(4.805,4.0)(4.82,3.0)(4.84,3.1)(4.86,2.8)(4.88,2.9)(4.895,4.5)(4.905,5.8)(4.915,4.0)
(4.925,2.6)(4.94,3.0)(4.96,2.8)(4.98,2.6)(4.99,3.5)(5.00,4.2)
};
\addplot[blue line] coordinates {
(0.34,3.65)(0.40,3.7)(0.50,3.8)(0.70,3.8)(1.00,3.9)(1.30,3.9)(1.45,4.0)(1.60,4.0)(1.70,3.9)(1.80,3.8)(2.00,3.8)(2.20,3.8)
(2.40,3.9)(2.55,3.9)(2.67,3.75)(2.80,3.7)(3.00,3.65)(3.20,3.75)(3.40,3.8)(3.53,3.75)(3.56,4.1)(3.65,4.0)(3.75,3.8)(3.85,3.5)
(3.92,3.1)(4.00,3.5)(4.10,3.8)(4.25,4.0)(4.35,3.9)(4.50,3.8)(4.60,3.75)(4.70,3.75)(4.75,4.1)(4.80,4.2)(4.90,4.6)(5.00,4.9)
};
\addplot[green line] coordinates {
(0.34,0)(3.55,0)(3.554,3.4)(3.576,3.4)(3.58,0)(4.71,0)(4.714,3.4)(4.751,3.4)(4.755,0)(4.78,0)(4.784,3.4)(4.806,3.4)(4.81,0)
(4.89,0)(4.894,3.4)(4.906,3.4)(4.91,0)(5,0)
};
\addplot[event] coordinates {(3.535,9)(4.71,9)};
\end{axis}
\node[sclab] at (p5.north west) {x 10\textsuperscript{4}};
\end{tikzpicture}
\end{document}
